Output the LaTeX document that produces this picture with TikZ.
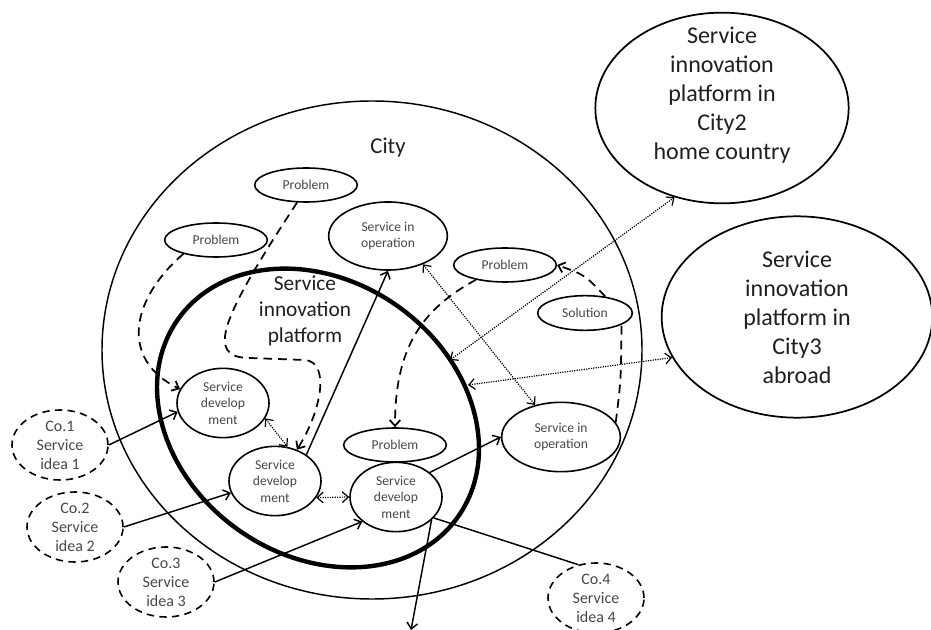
\documentclass[tikz,border=0pt]{standalone}
\usepackage{fontspec}
\setmainfont{Carlito}
\usetikzlibrary{shapes.geometric, arrows.meta}

\begin{document}
\begin{tikzpicture}[
    x=0.75pt, y=-0.75pt,
    >={Straight Barb[length=4.5pt,width=8pt]},
    oval/.style={ellipse, draw, line width=1.2pt, inner sep=0pt, align=center},
    smalltext/.style={font=\fontsize{10.2}{12.4}\selectfont, text=black!72},
    bigtext/.style={align=center, text=black!88},
    problem/.style={oval, smalltext, minimum width=77pt, minimum height=25.5pt},
    operation/.style={oval, smalltext, minimum width=89pt, minimum height=51pt},
    devel/.style={oval, smalltext, minimum width=69pt, minimum height=52pt},
    company/.style={oval, dash pattern=on 5.5pt off 4pt, minimum width=72pt, minimum height=52.5pt,
      font=\fontsize{12}{14.3}\selectfont, text=black!72},
    otherplat/.style={oval, line width=1.3pt, bigtext, font=\fontsize{18}{21.8}\selectfont},
    dashline/.style={line width=1.3pt, dash pattern=on 6.5pt off 4.5pt},
    dotline/.style={line width=0.9pt, dash pattern=on 0.9pt off 0.9pt, <->},
    solidline/.style={line width=1.1pt},
  ]
  \useasboundingbox (0,0) rectangle (931,630);

  % City and its platform
  \node[oval, line width=1.1pt, minimum width=405pt, minimum height=373.5pt] (city) at (372,350) {};
  \node[oval, line width=3.3pt, minimum width=257pt, minimum height=206pt, rotate=-35] (platform) at (318,418) {};
  \node[bigtext, font=\fontsize{17}{20}\selectfont] (citylabel) at (388,148) {City};
  \node[bigtext, font=\fontsize{16}{19.5}\selectfont] (platlabel) at (305,311) {Service\\innovation\\platform};

  % Other platforms
  \node[otherplat, minimum width=190pt, minimum height=143pt,
    label={[otherplat, draw=none, yshift=9.75pt]center:Service\\innovation\\platform in\\City2\\home country}] (city2) at (722,108) {};
  \node[otherplat, minimum width=203pt, minimum height=151pt] (city3) at (797,317) {Service\\innovation\\platform in\\City3\\abroad};

  % Nodes inside the city
  \node[problem] (prob1) at (306,185) {Problem};
  \node[problem] (prob2) at (216,240) {Problem};
  \node[problem] (prob3) at (505,265) {Problem};
  \node[problem] (prob4) at (395,445) {Problem};
  \node[problem, minimum width=71pt, minimum height=26pt] (sol) at (585,313) {Solution};
  \node[operation] (sio1) at (388,236) {Service in\\operation};
  \node[operation, minimum height=52pt] (sio2) at (561,437) {Service in\\operation};
  \node[devel] (sd1) at (223,403) {Service\\develop\\ment};
  \node[devel] (sd2) at (275,481) {Service\\develop\\ment};
  \node[devel] (sd3) at (396,497) {Service\\develop\\ment};

  % Companies
  \node[company] (co1) at (60,445) {Co.1\\Service\\idea 1};
  \node[company] (co2) at (75,527) {Co.2\\Service\\idea 2};
  \node[company] (co3) at (166,582) {Co.3\\Service\\idea 3};
  \node[company] (co4) at (596,598) {Co.4\\Service\\idea 4};

  \coordinate (edge2) at (450,360);
  \coordinate (edge3) at (468,385);
  \coordinate (out) at (411,630);

  % Problems feeding development
  \draw[dashline, ->] (prob2.203) .. controls (130,300) and (120,360) .. (sd1.162);
  \draw[dashline, ->] (prob1.243) .. controls (220,320) and (205,358) .. (250,358) -- (305,360)
    .. controls (330,362) and (322,410) .. (sd2.55);
  \draw[dashline, ->] (prob3.207) .. controls (420,310) and (395,350) .. (prob4.north);
  \draw[dashline] (sio2.15) .. controls (621,380) .. (sol.-18);
  \draw[dashline, ->] (sol.39) .. controls (585,275) .. (prob3.east);

  % Ideas and services
  \draw[solidline, ->] (co1.east) -- (sd1.191);
  \draw[solidline, ->] (co2.east) -- (sd2.195);
  \draw[solidline, ->] (co3.east) -- (sd3.216);
  \draw[solidline, ->] (sd2.40) -- (sio1.south);
  \draw[solidline, ->] (sd3.36) -- (sio2.west);
  \draw[solidline] (sd3.-29) -- (co4.118);
  \draw[solidline, ->] (sd3.-33) -- (out);

  % Cooperation
  \draw[dotline] (sd1.-20) -- (sd2.70);
  \draw[dotline] (sd2.-22) -- (sd3.west);
  \draw[dotline] (sio1.-39) -- (sio2.129);
  \draw[dotline] (edge2) -- (city2.242);
  \draw[dotline] (edge3) -- (city3.198);
\end{tikzpicture}
\end{document}
